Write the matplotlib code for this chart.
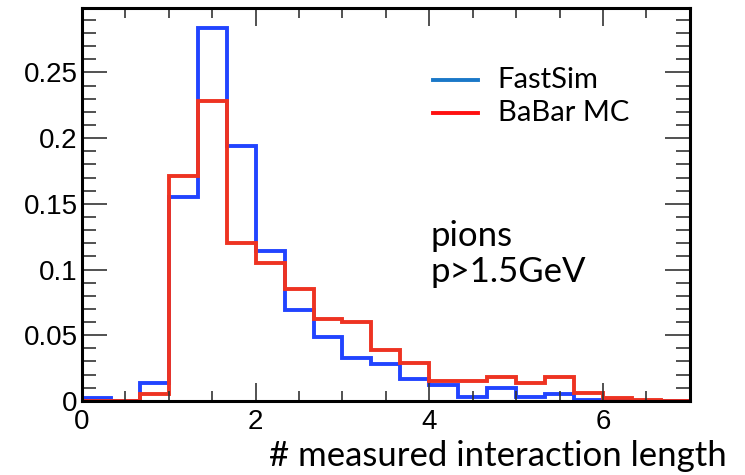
import matplotlib
matplotlib.use("Agg")
import matplotlib.pyplot as plt
import numpy as np
from matplotlib.ticker import MultipleLocator

# bin edges: 21 bins of width 1/3 over [0, 7]
n_bins = 21
x_lo, x_hi = 0.0, 7.0

fastsim = [0.002, 0.0, 0.014, 0.155, 0.284, 0.194, 0.114, 0.069, 0.049, 0.033,
           0.028, 0.017, 0.012, 0.003, 0.010, 0.003, 0.005, 0.001, 0.0005, 0.0, 0.0]
babar_mc = [0.0, 0.0, 0.005, 0.171, 0.228, 0.120, 0.105, 0.085, 0.062, 0.060,
            0.039, 0.029, 0.0155, 0.0155, 0.0185, 0.0134, 0.0185, 0.0058, 0.0025, 0.0005, 0.0]

labels = ["FastSim", "BaBar MC"]
hist_colors = ["#2244ff", "#ee3322"]
legend_colors = ["#1a78c8", "#ff1010"]

edges = np.linspace(x_lo, x_hi, n_bins + 1)

fig = plt.figure(figsize=(7.45, 4.75), dpi=100)
ax = fig.add_axes([0.110, 0.156, 0.816, 0.827])

for vals, col in zip([fastsim, babar_mc], hist_colors):
    ax.stairs(vals, edges, color=col, lw=2.8)

ax.set_xlim(x_lo, x_hi)
ax.set_ylim(0, 0.299)

ax.xaxis.set_major_locator(MultipleLocator(2))
ax.xaxis.set_minor_locator(MultipleLocator(0.5))
ax.yaxis.set_major_locator(MultipleLocator(0.05))
ax.yaxis.set_minor_locator(MultipleLocator(0.01))
ax.tick_params(which="both", direction="in", top=True, right=True, width=1.2, color="#333333")
ax.tick_params(axis="y", which="major", length=18, pad=3)
ax.tick_params(axis="y", which="minor", length=10)
ax.tick_params(axis="x", which="major", length=13, pad=6)
ax.tick_params(axis="x", which="minor", length=7)
ax.set_yticks([0, 0.05, 0.1, 0.15, 0.2, 0.25])
ax.set_yticklabels(["0", "0.05", "0.1", "0.15", "0.2", "0.25"])
for lab in ax.get_xticklabels() + ax.get_yticklabels():
    lab.set_fontfamily("Liberation Sans")
    lab.set_fontsize(20)
for s in ax.spines.values():
    s.set_linewidth(2.2)

# legend drawn by hand to mimic the ROOT TLegend look
leg_fs = 21
for i, (lab, col) in enumerate(zip(labels, legend_colors)):
    y = 0.831 - i * 0.069
    fig.lines.append(plt.Line2D([0.581, 0.642], [y, y], color=col, lw=2.8,
                                transform=fig.transFigure))
    fig.text(0.668, y, lab, fontsize=leg_fs, family="Lato", va="center", ha="left")

fig.text(0.578, 0.503, "pions", fontsize=25, family="Lato", va="center", ha="left")
fig.text(0.578, 0.427, "p>1.5GeV", fontsize=25, family="Lato", va="center", ha="left")

fig.text(0.976, 0.040, "# measured interaction length", fontsize=25, family="Lato",
         va="center", ha="right")

fig.savefig("out.png", dpi=100)
